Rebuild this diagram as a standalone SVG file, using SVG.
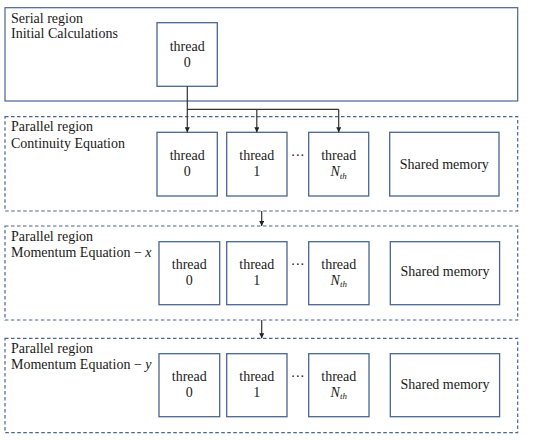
<svg xmlns="http://www.w3.org/2000/svg" width="550" height="440" viewBox="0 0 550 440">
<style>
text{font-family:"Liberation Serif","DejaVu Serif",serif;font-size:14px;fill:#1a1a1a}
.c{text-anchor:middle}
.box{fill:#fff;stroke:#4a6590;stroke-width:1.3}
.region{fill:#fff;stroke:#4a6590;stroke-width:1.2}
.dash{fill:none;stroke:#4a6590;stroke-width:1.2;stroke-dasharray:3.5 2.5}
.conn{fill:none;stroke:#333;stroke-width:1.2}
</style>
<defs>
<marker id="ah" viewBox="0 0 10 10" refX="10" refY="5" markerWidth="5" markerHeight="5" orient="auto" markerUnits="userSpaceOnUse">
<path d="M0,0 L10,5 L0,10 z" fill="#222"/>
</marker>
</defs>
<rect width="550" height="440" fill="#fff"/>

<g id="serial">
<rect class="region" x="5" y="7.7" width="512.7" height="93.3"/>
<text x="11" y="22.7">Serial region</text>
<text x="11" y="38">Initial Calculations</text>
</g>
<g id="serial-thread0">
<rect class="box" x="157" y="22.7" width="60.3" height="63.6"/>
<text class="c" x="187.2" y="51">thread</text>
<text class="c" x="187.2" y="66.7">0</text>
</g>

<g id="par1">
<rect class="dash" x="5" y="116.7" width="512.7" height="94.3"/>
<text x="11" y="131">Parallel region</text>
<text x="11" y="148">Continuity Equation</text>
</g>
<g id="par1-t0"><rect class="box" x="157" y="132.3" width="60.3" height="63.7"/><text class="c" x="187.2" y="160">thread</text><text class="c" x="187.2" y="176.3">0</text></g>
<g id="par1-t1"><rect class="box" x="226.7" y="132.3" width="60.3" height="63.7"/><text class="c" x="256.8" y="160">thread</text><text class="c" x="256.8" y="176.3">1</text></g>
<g id="par1-dots"><text class="c" x="297.8" y="160">···</text></g>
<g id="par1-tn"><rect class="box" x="308.7" y="132.3" width="60" height="63.7"/><text class="c" x="338.7" y="160">thread</text><text class="c" x="338.7" y="176.3" font-style="italic">N<tspan font-size="9" dy="2.5">th</tspan></text></g>
<g id="par1-mem"><rect class="box" x="389.7" y="132.3" width="109.3" height="63.7"/><text class="c" x="444.3" y="168.7">Shared memory</text></g>

<g id="par2">
<rect class="dash" x="5" y="226" width="512.7" height="94"/>
<text x="11" y="241">Parallel region</text>
<text x="11" y="257">Momentum Equation − <tspan font-style="italic">x</tspan></text>
</g>
<g id="par2-t0"><rect class="box" x="159" y="241.7" width="60.7" height="63"/><text class="c" x="189.3" y="268.7">thread</text><text class="c" x="189.3" y="284.7">0</text></g>
<g id="par2-t1"><rect class="box" x="226.7" y="241.7" width="60.3" height="63"/><text class="c" x="256.8" y="268.7">thread</text><text class="c" x="256.8" y="284.7">1</text></g>
<g id="par2-dots"><text class="c" x="297.8" y="268.7">···</text></g>
<g id="par2-tn"><rect class="box" x="308.7" y="241.7" width="60.3" height="63"/><text class="c" x="338.8" y="268.7">thread</text><text class="c" x="338.8" y="284.7" font-style="italic">N<tspan font-size="9" dy="2.5">th</tspan></text></g>
<g id="par2-mem"><rect class="box" x="390.3" y="241.7" width="109.3" height="63"/><text class="c" x="445" y="276.3">Shared memory</text></g>

<g id="par3">
<rect class="dash" x="5" y="338.3" width="512.7" height="94.4"/>
<text x="11" y="352.7">Parallel region</text>
<text x="11" y="369">Momentum Equation − <tspan font-style="italic">y</tspan></text>
</g>
<g id="par3-t0"><rect class="box" x="159" y="353.7" width="60.7" height="63"/><text class="c" x="189.3" y="380.7">thread</text><text class="c" x="189.3" y="396.7">0</text></g>
<g id="par3-t1"><rect class="box" x="226.7" y="353.7" width="60.3" height="63"/><text class="c" x="256.8" y="380.7">thread</text><text class="c" x="256.8" y="396.7">1</text></g>
<g id="par3-dots"><text class="c" x="297.8" y="380.7">···</text></g>
<g id="par3-tn"><rect class="box" x="308.7" y="353.7" width="60.3" height="63"/><text class="c" x="338.8" y="380.7">thread</text><text class="c" x="338.8" y="396.7" font-style="italic">N<tspan font-size="9" dy="2.5">th</tspan></text></g>
<g id="par3-mem"><rect class="box" x="390.3" y="353.7" width="109.3" height="63"/><text class="c" x="445" y="388.7">Shared memory</text></g>

<g id="connectors">
<path class="conn" d="M187.3,86.3 V132.3" marker-end="url(#ah)"/>
<path class="conn" d="M187.3,109.3 H338.7"/>
<path class="conn" d="M256.8,109.3 V132.3" marker-end="url(#ah)"/>
<path class="conn" d="M338.7,109.3 V132.3" marker-end="url(#ah)"/>
<path class="conn" d="M261.7,211 V226" marker-end="url(#ah)"/>
<path class="conn" d="M261.7,320 V338.3" marker-end="url(#ah)"/>
</g>
</svg>
